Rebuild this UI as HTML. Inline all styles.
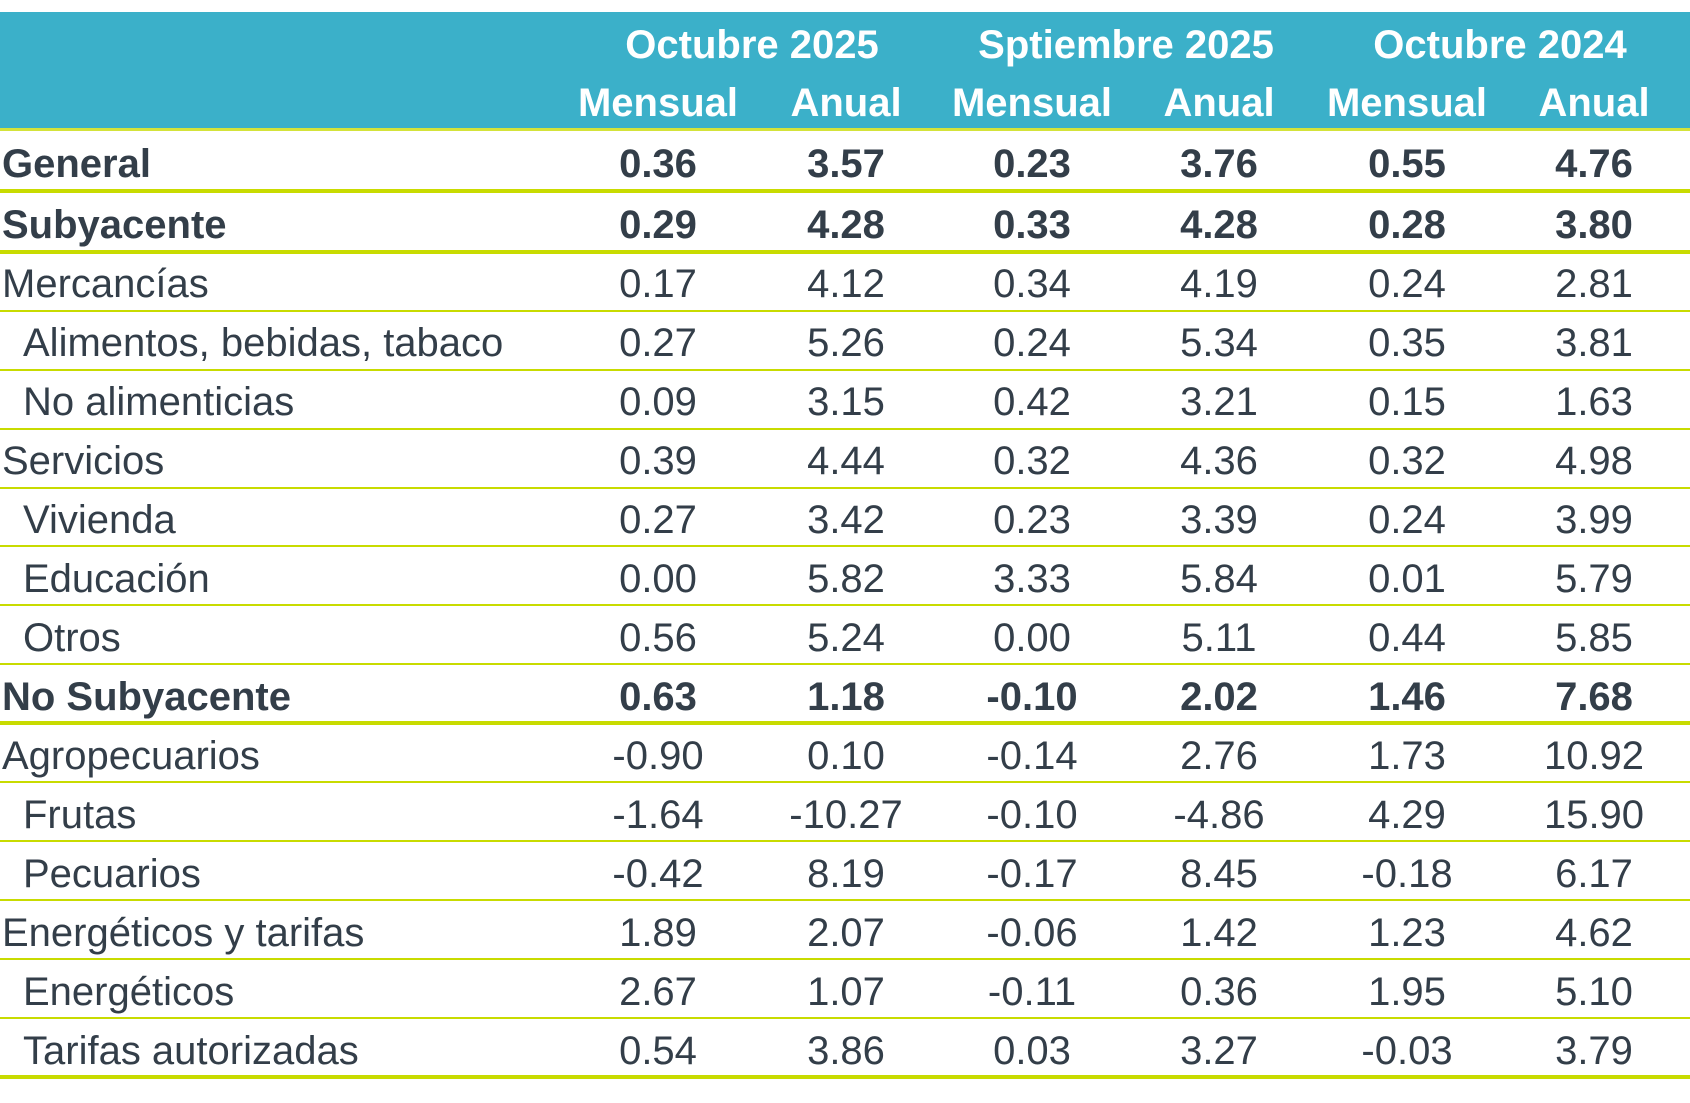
<!DOCTYPE html>
<html><head><meta charset="utf-8"><style>
body{margin:0;width:1690px;height:1103px;background:#fff;position:relative;overflow:hidden;font-family:"Liberation Sans",sans-serif;color:#333e49}
.hd{position:absolute;left:0;top:12px;width:1690px;height:116px;background:#3bb0c9}
.t{position:absolute;white-space:nowrap;font-size:40px;line-height:40px}
.w{color:#fff;font-weight:bold}
.c{transform:translateX(-50%)}
.ln{position:absolute;left:0;width:1690px;background:#c8db00}
.b{font-weight:bold}
</style></head><body>
<div class="hd"></div>
<div class="ln" style="top:128px;height:3px;background:#d4e33a"></div>
<div class="t w c" style="left:752px;top:25px">Octubre 2025</div>
<div class="t w c" style="left:1126px;top:25px">Sptiembre 2025</div>
<div class="t w c" style="left:1500px;top:25px">Octubre 2024</div>
<div class="t w c" style="left:658px;top:83px">Mensual</div>
<div class="t w c" style="left:846px;top:83px">Anual</div>
<div class="t w c" style="left:1032px;top:83px">Mensual</div>
<div class="t w c" style="left:1219px;top:83px">Anual</div>
<div class="t w c" style="left:1407px;top:83px">Mensual</div>
<div class="t w c" style="left:1594px;top:83px">Anual</div>
<div id="rows"></div>
<script>
var rows=[
["General",0,1,["0.36","3.57","0.23","3.76","0.55","4.76"]],
["Subyacente",0,1,["0.29","4.28","0.33","4.28","0.28","3.80"]],
["Mercancías",0,0,["0.17","4.12","0.34","4.19","0.24","2.81"]],
["Alimentos, bebidas, tabaco",1,0,["0.27","5.26","0.24","5.34","0.35","3.81"]],
["No alimenticias",1,0,["0.09","3.15","0.42","3.21","0.15","1.63"]],
["Servicios",0,0,["0.39","4.44","0.32","4.36","0.32","4.98"]],
["Vivienda",1,0,["0.27","3.42","0.23","3.39","0.24","3.99"]],
["Educación",1,0,["0.00","5.82","3.33","5.84","0.01","5.79"]],
["Otros",1,0,["0.56","5.24","0.00","5.11","0.44","5.85"]],
["No Subyacente",0,1,["0.63","1.18","-0.10","2.02","1.46","7.68"]],
["Agropecuarios",0,0,["-0.90","0.10","-0.14","2.76","1.73","10.92"]],
["Frutas",1,0,["-1.64","-10.27","-0.10","-4.86","4.29","15.90"]],
["Pecuarios",1,0,["-0.42","8.19","-0.17","8.45","-0.18","6.17"]],
["Energéticos y tarifas",0,0,["1.89","2.07","-0.06","1.42","1.23","4.62"]],
["Energéticos",1,0,["2.67","1.07","-0.11","0.36","1.95","5.10"]],
["Tarifas autorizadas",1,0,["0.54","3.86","0.03","3.27","-0.03","3.79"]]];
var bnd=[131,191,252];for(var k=1;k<=8;k++)bnd.push(252+k*58.875);for(k=1;k<=6;k++)bnd.push(723+k*59);
var cols=[658,846,1032,1219,1407,1594],h="";
rows.forEach(function(r,i){var top=bnd[i],bot=bnd[i+1],mid=(top+bot)/2+3;var y=mid-20;
h+='<div class="t'+(r[2]?' b':'')+'" style="left:'+(r[1]?23:2)+'px;top:'+y+'px">'+r[0]+'</div>';
r[3].forEach(function(v,j){h+='<div class="t c'+(r[2]?' b':'')+'" style="left:'+cols[j]+'px;top:'+y+'px">'+v+'</div>';});
var thick=r[2]||i==rows.length-1;
h+='<div class="ln" style="top:'+(bot-(thick?2:1))+'px;height:'+(thick?4:2)+'px"></div>';});
document.getElementById('rows').innerHTML=h;
</script>
</body></html>
